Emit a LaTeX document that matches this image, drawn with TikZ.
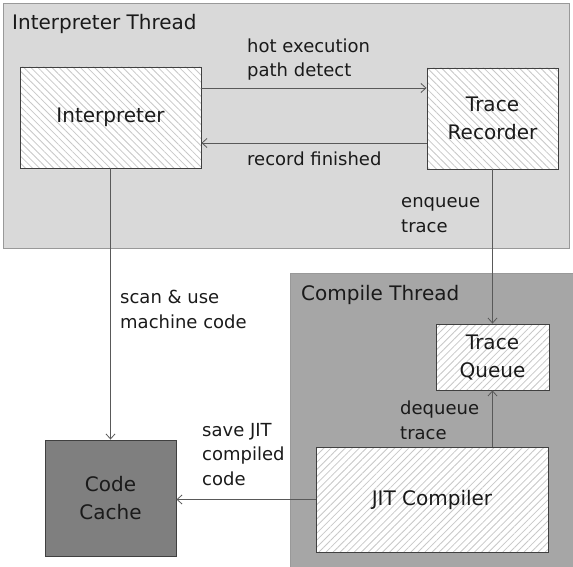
\documentclass[tikz,border=0pt]{standalone}
\usepackage{fontspec}
\setmainfont{DejaVu Sans}
\usetikzlibrary{patterns.meta,arrows.meta}
\definecolor{thrA}{HTML}{D9D9D9}
\definecolor{thrB}{HTML}{A6A6A6}
\definecolor{cacheC}{HTML}{7F7F7F}
\definecolor{edgeC}{HTML}{404040}
\definecolor{lineC}{HTML}{595959}
\definecolor{txtC}{HTML}{1A1A1A}
\definecolor{hatchC}{HTML}{C8C8C8}
\begin{document}
\begin{tikzpicture}[x=1pt,y=-1pt,
  thread/.style={draw=gray!80,line width=0.9pt},
  boxbase/.style={draw=edgeC,line width=0.9pt,inner sep=0pt,align=center,font=\fontsize{20}{28}\selectfont,text=txtC},
  hatchnw/.style={boxbase,preaction={fill=white},pattern={Lines[angle=-45,distance=5pt,line width=0.8pt]},pattern color=hatchC},
  hatchne/.style={boxbase,preaction={fill=white},pattern={Lines[angle=45,distance=5pt,line width=0.8pt]},pattern color=hatchC},
  lbl/.style={anchor=base west,inner sep=0pt,align=left,font=\fontsize{18}{24.5}\selectfont,text=txtC},
  ttl/.style={anchor=base west,inner sep=0pt,font=\fontsize{20}{24}\selectfont,text=txtC},
  arr/.style={draw=lineC,line width=0.8pt,-{Straight Barb[length=5pt,width=9pt]}}]
\useasboundingbox (0,0) rectangle (573,567);
% thread containers
\draw[thread,fill=thrA] (3,3) rectangle (569,248);
\draw[thread,fill=thrB] (290,273) rectangle (574,568);
\node[ttl] (t1) at (12,30) {Interpreter Thread};
\node[ttl] (t2) at (301,300) {Compile Thread};
% boxes
\node[hatchnw,minimum width=181pt,minimum height=101pt] (interp) at (110.5,117.5) {Interpreter};
\node[hatchnw,minimum width=131pt,minimum height=101pt] (rec) at (492.5,118.5) {Trace\\Recorder};
\node[hatchne,minimum width=113pt,minimum height=66pt] (queue) at (492.5,357) {Trace\\Queue};
\node[hatchne,minimum width=232pt,minimum height=105pt] (jit) at (432,499.5) {JIT Compiler};
\node[boxbase,fill=cacheC,minimum width=131pt,minimum height=116pt] (cache) at (110.5,498) {Code\\Cache};
% connectors
\coordinate (h1) at ([yshift=29.5pt]interp.east);
\coordinate (h2) at ([yshift=-25.5pt]interp.east);
\draw[arr] (h1) -- (h1 -| rec.west);
\draw[arr] (h2 -| rec.west) -- (h2);
\draw[arr] (rec.south) -- (queue.north);
\draw[arr] (jit.north -| queue.south) -- (queue.south);
\draw[arr] (interp.south) -- (cache.north);
\draw[arr] (jit.west) -- (jit.west -| cache.east);
% labels (base = baseline of last line)
\node[lbl] (l1) at (247,77) {hot execution\\path detect};
\node[lbl] (l2) at (247,165) {record finished};
\node[lbl] (l3) at (401,232) {enqueue\\trace};
\node[lbl] (l4) at (400,439) {dequeue\\trace};
\node[lbl] (l5) at (120,328) {scan \& use\\machine code};
\node[lbl] (l6) at (202,485) {save JIT\\compiled\\code};
\end{tikzpicture}
\end{document}
